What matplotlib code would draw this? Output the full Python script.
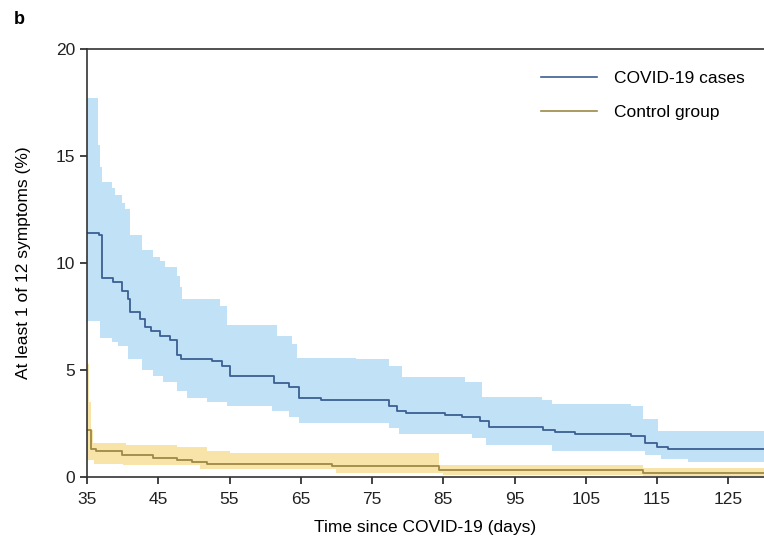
import matplotlib
matplotlib.use('Agg')
import matplotlib.pyplot as plt
import numpy as np

plt.rcParams['font.family'] = ['Liberation Sans', 'DejaVu Sans']

# COVID-19 cases: step estimate and 95% band (days, %)
covid_t = [35, 36.7, 37.1, 38.6, 39.9, 40.7, 41.0, 42.4, 43.1, 44.0, 45.2, 46.6, 47.6, 48.2,
           52.6, 54.0, 55.0, 61.3, 63.4, 64.8, 67.9, 77.4, 78.5, 79.8, 85.3, 87.6, 90.2, 91.4,
           99.0, 100.7, 103.5, 111.4, 113.3, 115.0, 116.5]
covid_v = [11.4, 11.3, 9.3, 9.1, 8.7, 8.3, 7.7, 7.4, 7.0, 6.8, 6.6, 6.4, 5.7, 5.5,
           5.4, 5.2, 4.7, 4.4, 4.2, 3.7, 3.6, 3.3, 3.1, 3.0, 2.9, 2.8, 2.6, 2.35,
           2.2, 2.1, 2.0, 1.9, 1.6, 1.4, 1.3]
covid_hi_t = [35, 36.5, 36.8, 37.1, 38.5, 38.9, 39.9, 40.3, 41.0, 42.7, 44.3, 45.2, 45.9, 47.6,
              48.0, 48.3, 53.6, 54.6, 61.6, 63.8, 64.5, 72.8, 77.4, 79.2, 88.1, 90.4, 98.8,
              100.2, 111.4, 113.0, 115.1]
covid_hi_v = [17.7, 15.5, 14.5, 13.8, 13.5, 13.2, 12.8, 12.5, 11.3, 10.6, 10.3, 10.1, 9.8, 9.4,
              8.9, 8.3, 8.0, 7.1, 6.6, 6.2, 5.55, 5.5, 5.2, 4.65, 4.45, 3.75, 3.6,
              3.4, 3.3, 2.7, 2.15]
covid_lo_t = [35, 36.8, 38.5, 39.3, 40.7, 42.7, 44.2, 45.6, 47.6, 49.0, 51.8, 54.6, 61.0, 63.4,
              64.8, 77.4, 78.8, 89.0, 91.0, 100.2, 113.3, 115.6, 119.3]
covid_lo_v = [7.3, 6.5, 6.3, 6.1, 5.5, 5.0, 4.7, 4.45, 4.0, 3.7, 3.5, 3.3, 3.1, 2.8,
              2.5, 2.3, 2.0, 1.8, 1.5, 1.2, 1.05, 0.85, 0.7]

# control group
ctrl_t = [35, 35.5, 36.2, 39.9, 44.3, 47.6, 49.8, 51.9, 69.4, 84.4, 113.0]
ctrl_v = [2.2, 1.3, 1.2, 1.05, 0.9, 0.8, 0.7, 0.6, 0.5, 0.33, 0.2]
ctrl_hi_t = [35, 35.3, 35.6, 35.9, 40.5, 47.6, 51.8, 55.0, 84.4, 113.0]
ctrl_hi_v = [5.3, 3.5, 2.2, 1.6, 1.5, 1.4, 1.2, 1.1, 0.55, 0.42]
ctrl_lo_t = [35, 36.0, 40.0, 50.8, 70.0, 85.0, 113.0]
ctrl_lo_v = [0.8, 0.6, 0.55, 0.35, 0.2, 0.1, 0.05]

t_end = 130


def step_on(grid, t, v):
    idx = np.searchsorted(t, grid, side='right') - 1
    return np.asarray(v)[np.clip(idx, 0, len(v) - 1)]


def draw_group(ax, t, v, t_hi, v_hi, t_lo, v_lo, line_c, fill_c, label):
    grid = np.unique(np.concatenate([t, t_hi, t_lo, [t_end]]))
    ax.fill_between(grid, step_on(grid, t_lo, v_lo), step_on(grid, t_hi, v_hi),
                    step='post', color=fill_c, lw=0)
    ax.step(grid, step_on(grid, t, v), where='post', color=line_c, lw=1.3, label=label)


fig = plt.figure(figsize=(7.64, 5.48), dpi=100)
ax = fig.add_axes([0.1139, 0.1296, 0.8861, 0.781])

draw_group(ax, covid_t, covid_v, covid_hi_t, covid_hi_v, covid_lo_t, covid_lo_v,
           '#3b5f91', '#c0e1f6', 'COVID-19 cases')
draw_group(ax, ctrl_t, ctrl_v, ctrl_hi_t, ctrl_hi_v, ctrl_lo_t, ctrl_lo_v,
           '#9c8a45', '#f8e4a8', 'Control group')

ax.set_xlim(35, t_end)
ax.set_ylim(0, 20)
ax.set_xticks(np.arange(35, 130, 10))
ax.set_yticks([0, 5, 10, 15, 20])
ax.spines['right'].set_color('none')
for s in ['left', 'bottom', 'top']:
    ax.spines[s].set_linewidth(1.2)
    ax.spines[s].set_color('#333333')
ax.tick_params(direction='out', length=5, width=1.2, labelsize=12.5, colors='#222222')
ax.tick_params(axis='x', pad=6)
ax.set_xlabel('Time since COVID-19 (days)', fontsize=12.5, labelpad=9)
ax.set_ylabel('At least 1 of 12 symptoms (%)', fontsize=12.5, labelpad=18)

leg = ax.legend(loc='upper right', bbox_to_anchor=(0.995, 0.985), frameon=False,
                fontsize=12.5, handlelength=3.2, handletextpad=1.0, labelspacing=1.1)
for h in leg.get_lines():
    h.set_linewidth(1.2)

fig.text(0.018, 0.965, 'b', fontsize=13, fontweight='bold', va='center')

fig.savefig('out.png', dpi=100)
